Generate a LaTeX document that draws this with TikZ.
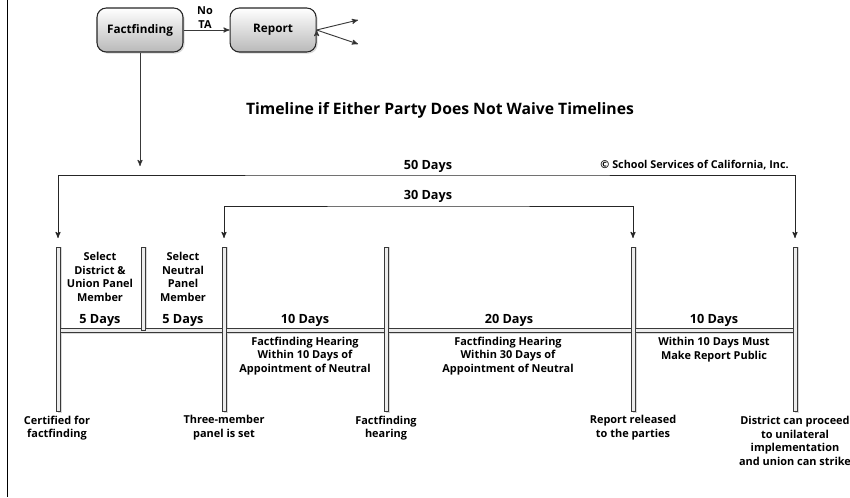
\documentclass[tikz,border=0pt]{standalone}
\usepackage{fontspec}
\setmainfont{Open Sans}
\usetikzlibrary{arrows, arrows.meta, positioning, shadows}

\begin{document}
\begin{tikzpicture}[x=0.75pt,y=-0.75pt,>=stealth',node distance=34.5pt,
    phase/.style={draw=black!85, line width=0.8pt, rounded corners=7pt, top color=white, bottom color=gray!55,
      minimum width=64.5pt, minimum height=33pt, font=\fontsize{8.8}{10}\selectfont\bfseries,
      drop shadow={opacity=0.3,shadow xshift=1.2pt,shadow yshift=-1.2pt}},
    link/.style={->, draw=gray!45!black, line width=0.7pt},
    bracket/.style={<->, draw=black!85, line width=0.7pt},
    bar/.style={draw=gray!45!black, fill=gray!15, line width=0.6pt},
    barshadow/.style={fill=gray!30, draw=none},
    days/.style={font=\fontsize{9.5}{11}\selectfont\bfseries},
    note/.style={align=center, inner sep=0pt, font=\fontsize{8.2}{10.3}\selectfont\bfseries}]

      \useasboundingbox (0,0) rectangle (850,497);
      \draw[line width=0.9pt] (7.5,0) -- (7.5,497);

      % top boxes
      \node[phase] (ff) at (140,30) {Factfinding};
      \node[phase, right=of ff] (rep) {Report};
      \node[note] (nota) at (205,17.5) {No\\TA};
      \coordinate (up) at (358,20);
      \coordinate (dn) at (358,44);
      \coordinate (ffend) at (140,166);

      \path[link]
      (ff) edge (rep)
      (rep.east) edge (up)
      (rep.east) edge (dn)
      (ff) edge (ffend)
      ;

      \node[font=\fontsize{11.8}{14}\selectfont\bfseries] (title) at (440,110)
        {Timeline if Either Party Does Not Waive Timelines};

      % timeline bars
      \foreach \n/\x/\y in {0/58/411, 1/143/330, 2/224/411, 3/386/411, 4/633/411, 5/795/411} {
        \coordinate (t\n) at (\x,247);
        \coordinate (e\n) at (\x,\y);
        \coordinate (k\n) at (\x,238);
      }
      \coordinate (h0) at (58,330);
      \coordinate (h5) at (795,330);

      \fill[barshadow] ([xshift=-0.3pt,yshift=0.3pt]h0) rectangle ([xshift=1.8pt,yshift=-2.7pt]h5);
      \foreach \n in {0,...,5}
        \fill[barshadow] ([xshift=-0.3pt]t\n) rectangle ([xshift=2.7pt,yshift=-1.2pt]e\n);
      \draw[bar] ([yshift=1.5pt]h0) rectangle ([yshift=-1.5pt]h5);
      \foreach \n in {0,...,5}
        \draw[bar] ([xshift=-1.5pt]t\n) rectangle ([xshift=1.5pt]e\n);

      % brackets
      \draw[bracket] (k0) |- (428,175) -| (k5);
      \draw[bracket] (k2) |- (428,206) -| (k4);
      \node[days] (d50) at (428,166) {50 Days};
      \node[days] (d30) at (428,196) {30 Days};
      \node[note, anchor=east, font=\fontsize{8.1}{9}\selectfont\bfseries] (copy) at (789,165)
        {© School Services of California, Inc.};

      % phases
      \node[note] (sel1) at (100,277) {Select\\District \&\\Union Panel\\Member};
      \node[note] (sel2) at (183,277) {Select\\Neutral\\Panel\\Member};
      \node[days] (p1) at (100,320) {5 Days};
      \node[days] (p2) at (183,320) {5 Days};
      \node[days] (p3) at (305,320) {10 Days};
      \node[days] (p4) at (509,320) {20 Days};
      \node[days] (p5) at (714,320) {10 Days};
      \node[note] (hear10) at (305,356) {Factfinding Hearing\\Within 10 Days of\\Appointment of Neutral};
      \node[note] (hear30) at (508,356) {Factfinding Hearing\\Within 30 Days of\\Appointment of Neutral};
      \node[note] (public) at (714,350) {Within 10 Days Must\\Make Report Public};

      % events
      \node[note] (cert) at (57,428) {Certified for\\factfinding};
      \node[note] (panel) at (224,428) {Three-member\\panel is set};
      \node[note] (hearing) at (386,428) {Factfinding\\hearing};
      \node[note] (released) at (633,428) {Report released\\to the parties};
      \node[note] (strike) at (795,441) {District can proceed\\to unilateral\\implementation\\and union can strike};
\end{tikzpicture}
\end{document}
